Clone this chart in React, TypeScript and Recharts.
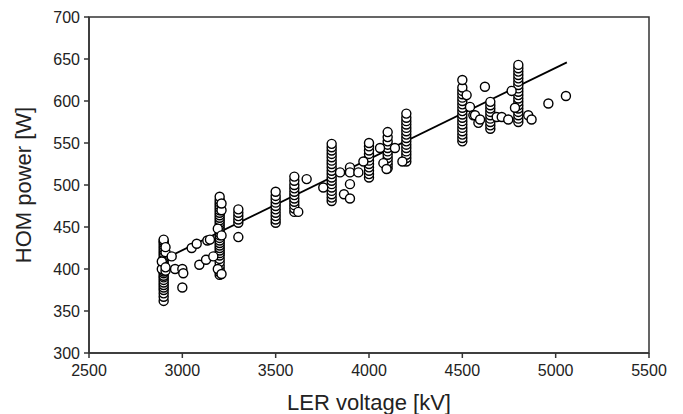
import React from 'react';
import {
  ScatterChart,
  Scatter,
  XAxis,
  YAxis,
  ZAxis,
  ReferenceLine,
  ReferenceArea,
} from 'recharts';

// Clusters measured at fixed LER voltages (kV) -> HOM power (W)
const clusterVoltages = [2900, 3200, 3300, 3500, 3600, 3800, 4000, 4100, 4200, 4500, 4650, 4800];
const clusterPowers: number[][] = [
  [362, 367, 371, 375, 378, 381, 384, 387, 390, 392, 395, 397, 399, 401, 403, 405, 408, 411, 413, 416, 419, 422, 425, 428, 431, 433, 435],
  [393, 396, 400, 404, 408, 412, 416, 419, 422, 425, 428, 431, 434, 437, 440, 443, 446, 449, 452, 455, 458, 461, 464, 467, 470, 473, 476, 479, 482, 486],
  [438, 455, 459, 463, 467, 471],
  [455, 459, 463, 467, 471, 475, 479, 483, 487, 492],
  [468, 472, 476, 480, 484, 488, 492, 496, 500, 505, 510],
  [481, 485, 489, 493, 497, 501, 505, 509, 513, 517, 521, 525, 529, 533, 537, 541, 545, 549],
  [509, 513, 517, 521, 525, 529, 533, 537, 541, 546, 550],
  [520, 524, 528, 532, 536, 540, 544, 548, 552, 557, 563],
  [528, 532, 536, 540, 544, 548, 552, 556, 560, 564, 568, 572, 576, 580, 585],
  [552, 556, 560, 564, 568, 572, 576, 580, 584, 588, 592, 596, 600, 604, 608, 612, 616, 625],
  [567, 571, 575, 579, 583, 587, 591, 595, 599],
  [575, 579, 583, 587, 591, 595, 599, 603, 607, 611, 615, 619, 623, 627, 631, 635, 639, 643],
];

// Individual scattered measurements
const extraVoltages = [
  2890, 2890, 2910, 2910, 2910, 2910, 3190, 3190, 3210, 3210, 3210, 3210,
  2943, 2961, 3000, 3005, 3000, 3050, 3077, 3091, 3127, 3134, 3148, 3166,
  3621, 3666, 3755, 3845, 3866, 3898, 3898, 3898, 3898, 3943, 3970, 4059,
  4077, 4094, 4139, 4179, 4523, 4541, 4559, 4568, 4586, 4595, 4621, 4684,
  4711, 4746, 4764, 4782, 4853, 4871, 4961, 5055,
];
const extraPowers = [
  400, 409, 398, 402, 420, 426, 400, 448, 394, 440, 470, 478,
  415, 400, 400, 395, 378, 425, 430, 405, 411, 434, 435, 415,
  468, 507, 497, 515, 489, 521, 515, 484, 501, 515, 528, 544,
  526, 519, 544, 528, 607, 593, 583, 583, 574, 578, 617, 581,
  581, 578, 612, 592, 583, 578, 597, 606,
];

// Linear fit endpoints
const fitVoltages = [2900, 5060];
const fitPowers = [411.5, 646];

const xTicks = [2500, 3000, 3500, 4000, 4500, 5000, 5500];
const yTicks = [300, 350, 400, 450, 500, 550, 600, 650, 700];

const points: { x: number; y: number }[] = [];
clusterVoltages.forEach((v, i) => {
  clusterPowers[i].forEach((p) => points.push({ x: v, y: p }));
});
extraVoltages.forEach((v, i) => points.push({ x: v, y: extraPowers[i] }));

const axisColor = '#333';
const font = '"Liberation Sans", Arial, sans-serif';

export default function App() {
  return (
    <div style={{ width: 675, height: 406, fontFamily: font }}>
      <ScatterChart
        width={675}
        height={406}
        margin={{ top: 9, right: 34, bottom: 0, left: 0 }}
      >
        <XAxis
          type="number"
          dataKey="x"
          domain={[2500, 5500]}
          ticks={xTicks}
          allowDataOverflow
          height={61}
          stroke={axisColor}
          strokeWidth={1.5}
          tickSize={5}
          tickMargin={7}
          tick={{ fill: '#222', fontSize: 16, fontFamily: font }}
          label={{
            value: 'LER voltage [kV]',
            position: 'insideBottom',
            offset: 4,
            style: { fill: '#222', fontSize: 22, fontFamily: font },
          }}
        />
        <YAxis
          type="number"
          dataKey="y"
          domain={[300, 700]}
          ticks={yTicks}
          allowDataOverflow
          width={81}
          stroke={axisColor}
          strokeWidth={1.5}
          tickSize={5}
          tickMargin={4}
          tick={{ fill: '#222', fontSize: 16, fontFamily: font }}
          label={{
            value: 'HOM power [W]',
            angle: -90,
            position: 'insideLeft',
            offset: 15,
            style: { fill: '#222', fontSize: 22, fontFamily: font, textAnchor: 'middle' },
          }}
        />
        <ZAxis range={[56, 56]} />
        <ReferenceArea
          x1={2500}
          x2={5500}
          y1={300}
          y2={700}
          fill="none"
          stroke={axisColor}
          strokeWidth={1.5}
        />
        <Scatter
          data={points}
          fill="#fff"
          stroke="#000"
          strokeWidth={1.4}
          isAnimationActive={false}
        />
        <ReferenceLine
          segment={[
            { x: fitVoltages[0], y: fitPowers[0] },
            { x: fitVoltages[1], y: fitPowers[1] },
          ]}
          stroke="#000"
          strokeWidth={1.8}
        />
      </ScatterChart>
    </div>
  );
}
